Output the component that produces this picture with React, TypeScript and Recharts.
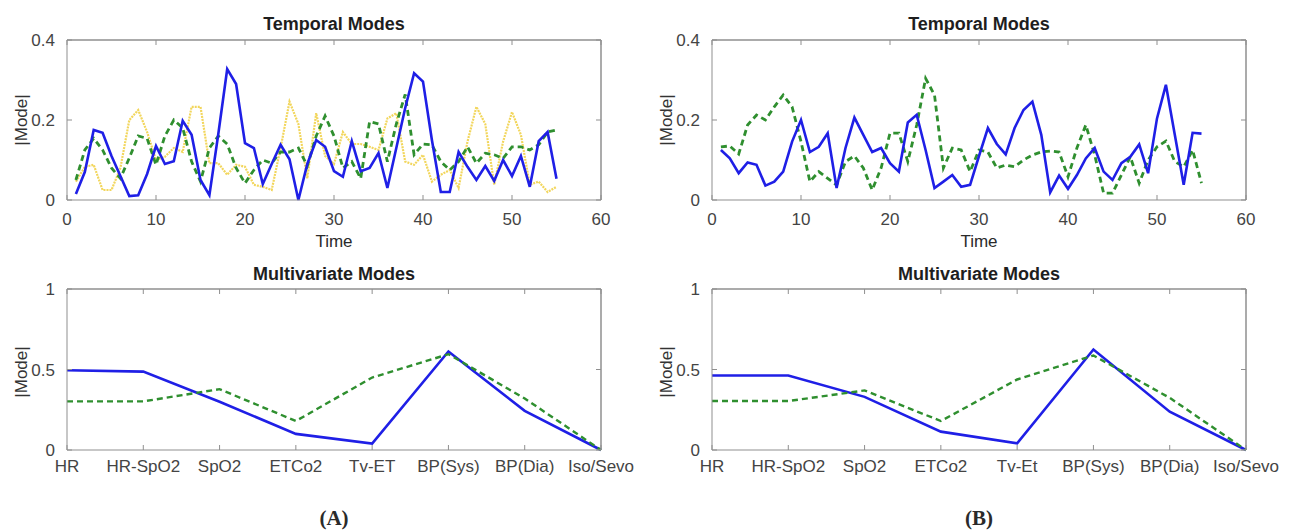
import { LineChart, Line, XAxis, YAxis, ReferenceLine } from "recharts";

// |Mode| over time, panel A (three temporal modes)
const timeA_mode1 = [
  0.015, 0.07, 0.175, 0.168, 0.11, 0.06, 0.01, 0.012, 0.065, 0.135,
  0.09, 0.097, 0.198, 0.163, 0.05, 0.012, 0.165, 0.327, 0.29, 0.142,
  0.13, 0.04, 0.09, 0.138, 0.102, 0.0, 0.09, 0.15, 0.133, 0.072,
  0.058, 0.147, 0.072, 0.08, 0.117, 0.03, 0.13, 0.23, 0.317, 0.296,
  0.15, 0.02, 0.02, 0.12, 0.083, 0.05, 0.085, 0.048, 0.1, 0.06,
  0.11, 0.033, 0.147, 0.17, 0.053,
];
const timeA_mode2 = [
  0.05, 0.125, 0.154, 0.125, 0.08, 0.054, 0.105, 0.16, 0.154, 0.088,
  0.16, 0.2, 0.18, 0.096, 0.046, 0.13, 0.16, 0.14, 0.08, 0.042,
  0.075, 0.1, 0.092, 0.12, 0.12, 0.13, 0.085, 0.16, 0.21, 0.16,
  0.08, 0.096, 0.054, 0.196, 0.19, 0.096, 0.19, 0.264, 0.113, 0.14,
  0.138, 0.096, 0.075, 0.096, 0.133, 0.092, 0.117, 0.113, 0.104, 0.133,
  0.133, 0.125, 0.138, 0.17, 0.175,
];
const timeA_mode3 = [
  0.046, 0.083, 0.088, 0.025, 0.025, 0.08, 0.2, 0.225, 0.17, 0.1,
  0.108, 0.13, 0.12, 0.233, 0.233, 0.092, 0.092, 0.063, 0.088, 0.083,
  0.038, 0.033, 0.025, 0.13, 0.246, 0.19, 0.054, 0.217, 0.11, 0.09,
  0.17, 0.14, 0.14, 0.133, 0.125, 0.204, 0.217, 0.096, 0.088, 0.113,
  0.046, 0.063, 0.075, 0.03, 0.146, 0.233, 0.19, 0.038, 0.146, 0.22,
  0.163, 0.038, 0.046, 0.02, 0.033,
];

// panel B (two temporal modes)
const timeB_mode1 = [
  0.125, 0.104, 0.067, 0.094, 0.088, 0.036, 0.046, 0.071, 0.146, 0.2,
  0.12, 0.133, 0.167, 0.03, 0.13, 0.206, 0.163, 0.12, 0.13, 0.092,
  0.071, 0.194, 0.213, 0.125, 0.03, 0.046, 0.0625, 0.033, 0.038, 0.11,
  0.18, 0.14, 0.114, 0.18, 0.225, 0.246, 0.163, 0.019, 0.061, 0.028,
  0.0625, 0.104, 0.13, 0.071, 0.05, 0.092, 0.108, 0.139, 0.067, 0.204,
  0.288, 0.163, 0.038, 0.168, 0.166,
];
const timeB_mode2 = [
  0.133, 0.135, 0.115, 0.1875, 0.2125, 0.2, 0.233, 0.2625, 0.233, 0.146,
  0.046, 0.071, 0.054, 0.0375, 0.096, 0.11, 0.08, 0.025, 0.08, 0.167,
  0.167, 0.096, 0.1875, 0.304, 0.2625, 0.08, 0.13, 0.125, 0.071, 0.125,
  0.12, 0.08, 0.0875, 0.083, 0.1, 0.1125, 0.12, 0.1225, 0.12, 0.058,
  0.13, 0.1875, 0.1125, 0.017, 0.017, 0.0625, 0.108, 0.042, 0.1, 0.133,
  0.1475, 0.096, 0.083, 0.125, 0.042,
];

const variables = ["HR", "HR-SpO2", "SpO2", "ETCo2", "Tv-ET", "BP(Sys)", "BP(Dia)", "Iso/Sevo"];
const variablesB = ["HR", "HR-SpO2", "SpO2", "ETCo2", "Tv-Et", "BP(Sys)", "BP(Dia)", "Iso/Sevo"];
const multiA_mode1 = [0.495, 0.487, 0.3, 0.1, 0.04, 0.612, 0.243, 0.0];
const multiA_mode2 = [0.302, 0.302, 0.378, 0.18, 0.45, 0.595, 0.32, 0.0];
const multiB_mode1 = [0.463, 0.463, 0.33, 0.114, 0.041, 0.624, 0.238, 0.0];
const multiB_mode2 = [0.304, 0.304, 0.37, 0.18, 0.438, 0.587, 0.324, 0.0];

const timeTicks = [0, 10, 20, 30, 40, 50, 60];
const temporalYTicks = [0, 0.2, 0.4];
const multiYTicks = [0, 0.5, 1];

const BLUE = "#1f1fe6";
const GREEN = "#2f8f2f";
const YELLOW = "#f2d65c";
const AXIS = "#8f8f8f";
const TICK = { fill: "#444", fontSize: 17, fontFamily: "Liberation Sans" };
// tick marks only, no label
const noLabel = () => <g />;

const PLOT_W = 534;
const YAXIS_W = 60;
const FONT = "Liberation Sans, Arial, sans-serif";

function temporalRows(series: number[][]) {
  return series[0].map((_, i) => {
    const row: Record<string, number> = { time: i + 1 };
    series.forEach((s, k) => (row["m" + k] = s[i]));
    return row;
  });
}

function multiRows(names: string[], series: number[][]) {
  return names.map((name, i) => {
    const row: Record<string, any> = { name };
    series.forEach((s, k) => (row["m" + k] = s[i]));
    return row;
  });
}

function ModeLabel({ cx, cy }: { cx: number; cy: number }) {
  return (
    <div
      style={{
        position: "absolute",
        left: cx - 40,
        top: cy - 10,
        width: 80,
        height: 20,
        lineHeight: "20px",
        textAlign: "center",
        transform: "rotate(-90deg)",
        fontSize: 17,
        color: "#333",
        fontFamily: FONT,
      }}
    >
      |Mode|
    </div>
  );
}

// invisible series so the top / right box axes get registered and drawn
function boxLine(key: string) {
  return (
    <Line
      xAxisId="t"
      yAxisId="r"
      dataKey={key}
      stroke="transparent"
      strokeWidth={0}
      dot={false}
      activeDot={false}
      legendType="none"
      isAnimationActive={false}
    />
  );
}

function TemporalChart({ plotLeft, series }: { plotLeft: number; series: number[][] }) {
  const data = temporalRows(series);
  const styles = [
    { key: "m0", color: BLUE, dash: undefined, width: 2.6 },
    { key: "m1", color: GREEN, dash: "6 4", width: 2.8 },
    { key: "m2", color: YELLOW, dash: "2 1", width: 2.2 },
  ];
  const order = series.length === 3 ? [2, 1, 0] : [1, 0];
  return (
    <div style={{ position: "absolute", left: plotLeft - YAXIS_W, top: 0 }}>
      <LineChart
        width={YAXIS_W + PLOT_W + 40}
        height={240}
        data={data}
        margin={{ top: 39, right: 39, bottom: 0, left: 0 }}
      >
        <XAxis
          xAxisId="b"
          dataKey="time"
          type="number"
          domain={[0, 60]}
          ticks={timeTicks}
          height={40}
          stroke={AXIS}
          tickSize={-5}
          tickMargin={18}
          tick={TICK}
          interval={0}
        />
        <XAxis
          xAxisId="t"
          orientation="top"
          dataKey="time"
          type="number"
          domain={[0, 60]}
          ticks={timeTicks}
          height={1}
          stroke={AXIS}
          tickSize={-5}
          tick={noLabel}
          interval={0}
        />
        <YAxis
          yAxisId="l"
          type="number"
          domain={[0, 0.4]}
          ticks={temporalYTicks}
          width={YAXIS_W}
          stroke={AXIS}
          tickSize={-5}
          tickMargin={17}
          tick={TICK}
          interval={0}
        />
        <YAxis
          yAxisId="r"
          orientation="right"
          type="number"
          domain={[0, 0.4]}
          ticks={temporalYTicks}
          width={1}
          stroke={AXIS}
          tickSize={-5}
          tick={noLabel}
          interval={0}
        />
        <ReferenceLine xAxisId="b" yAxisId="l" y={0.4} stroke={AXIS} />
        <ReferenceLine xAxisId="b" yAxisId="l" x={60} stroke={AXIS} />
        {boxLine("m0")}
        {order.map((k) => (
          <Line
            key={styles[k].key}
            xAxisId="b"
            yAxisId="l"
            dataKey={styles[k].key}
            type="linear"
            stroke={styles[k].color}
            strokeWidth={styles[k].width}
            strokeDasharray={styles[k].dash}
            dot={false}
            isAnimationActive={false}
          />
        ))}
      </LineChart>
    </div>
  );
}

function MultiChart({ plotLeft, names, series }: { plotLeft: number; names: string[]; series: number[][] }) {
  const data = multiRows(names, series);
  return (
    <div style={{ position: "absolute", left: plotLeft - YAXIS_W, top: 249 }}>
      <LineChart
        width={YAXIS_W + PLOT_W + 50}
        height={241}
        data={data}
        margin={{ top: 39, right: 49, bottom: 0, left: 0 }}
      >
        <XAxis
          xAxisId="b"
          dataKey="name"
          type="category"
          height={40}
          stroke={AXIS}
          tickSize={-5}
          tickMargin={15}
          tick={TICK}
          interval={0}
        />
        <XAxis
          xAxisId="t"
          orientation="top"
          dataKey="name"
          type="category"
          height={1}
          stroke={AXIS}
          tickSize={-5}
          tick={noLabel}
          interval={0}
        />
        <YAxis
          yAxisId="l"
          type="number"
          domain={[0, 1]}
          ticks={multiYTicks}
          width={YAXIS_W}
          stroke={AXIS}
          tickSize={-5}
          tickMargin={17}
          tick={TICK}
          interval={0}
        />
        <YAxis
          yAxisId="r"
          orientation="right"
          type="number"
          domain={[0, 1]}
          ticks={multiYTicks}
          width={1}
          stroke={AXIS}
          tickSize={-5}
          tick={noLabel}
          interval={0}
        />
        <ReferenceLine xAxisId="b" yAxisId="l" y={1} stroke={AXIS} />
        <ReferenceLine xAxisId="b" yAxisId="l" x={names[names.length - 1]} stroke={AXIS} />
        {boxLine("m0")}
        <Line
          xAxisId="b"
          yAxisId="l"
          dataKey="m0"
          type="linear"
          stroke={BLUE}
          strokeWidth={2.6}
          dot={false}
          isAnimationActive={false}
        />
        <Line
          xAxisId="b"
          yAxisId="l"
          dataKey="m1"
          type="linear"
          stroke={GREEN}
          strokeWidth={2.4}
          strokeDasharray="6 4"
          dot={false}
          isAnimationActive={false}
        />
      </LineChart>
    </div>
  );
}

function Label({ x, y, text, bold, size, serif }: { x: number; y: number; text: string; bold?: boolean; size: number; serif?: boolean }) {
  return (
    <div
      style={{
        position: "absolute",
        left: x - 150,
        top: y,
        width: 300,
        textAlign: "center",
        fontSize: size,
        lineHeight: `${size}px`,
        fontWeight: bold ? 700 : 400,
        color: bold && !serif ? "#1e1e1e" : "#2a2a2a",
        fontFamily: serif ? "Liberation Serif, DejaVu Serif, serif" : FONT,
        whiteSpace: "nowrap",
      }}
    >
      {text}
    </div>
  );
}

export default function App() {
  const leftA = 67;
  const leftB = 712;
  const cA = leftA + PLOT_W / 2;
  const cB = leftB + PLOT_W / 2;
  return (
    <div
      style={{
        position: "fixed",
        left: 0,
        top: 0,
        width: 1295,
        height: 532,
        background: "#fff",
        overflow: "hidden",
      }}
    >
      <TemporalChart plotLeft={leftA} series={[timeA_mode1, timeA_mode2, timeA_mode3]} />
      <TemporalChart plotLeft={leftB} series={[timeB_mode1, timeB_mode2]} />
      <MultiChart plotLeft={leftA} names={variables} series={[multiA_mode1, multiA_mode2]} />
      <MultiChart plotLeft={leftB} names={variablesB} series={[multiB_mode1, multiB_mode2]} />

      <Label x={cA} y={15} text="Temporal Modes" bold size={18} />
      <Label x={cB} y={15} text="Temporal Modes" bold size={18} />
      <Label x={cA} y={233} text="Time" size={17} />
      <Label x={cB} y={233} text="Time" size={17} />
      <Label x={cA} y={265} text="Multivariate Modes" bold size={18} />
      <Label x={cB} y={265} text="Multivariate Modes" bold size={18} />
      <Label x={cA} y={508} text="(A)" bold serif size={21} />
      <Label x={cB} y={508} text="(B)" bold serif size={21} />

      <ModeLabel cx={22} cy={120} />
      <ModeLabel cx={667} cy={120} />
      <ModeLabel cx={22} cy={372} />
      <ModeLabel cx={667} cy={372} />
    </div>
  );
}
